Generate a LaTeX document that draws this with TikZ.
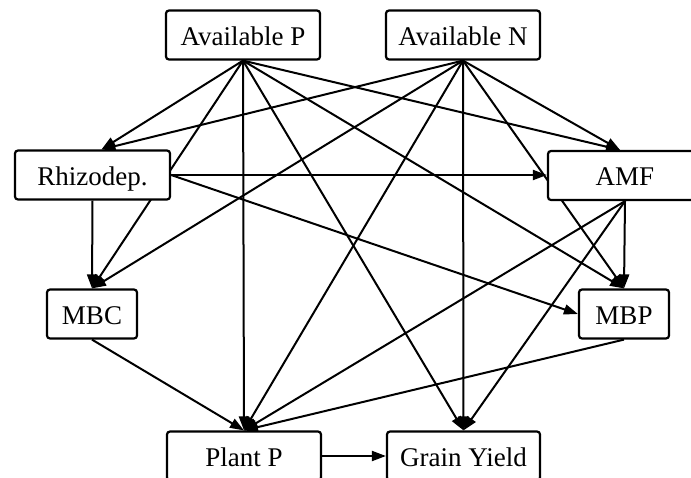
\documentclass[tikz,border=0pt]{standalone}
\usepackage{fontspec}
\setmainfont{Liberation Serif}
\usetikzlibrary{arrows.meta,backgrounds}
\begin{document}
\begin{tikzpicture}[x=1pt,y=-1pt,
  box/.style={draw=black,line width=2.2pt,fill=white,rounded corners=3pt,
    minimum width=154pt,minimum height=49pt,inner sep=2pt,
    text height=22pt,text depth=2pt,font=\fontsize{27}{31}\selectfont},
  smallbox/.style={box,minimum width=90pt},
  edge/.style={line width=2pt,-{Triangle[length=14pt,width=10pt]}}]
\path[use as bounding box,clip] (0,0) rectangle (691,477);
\node[box] (aP) at (243,35) {Available P};
\node[box] (aN) at (463,35) {Available N};
\node[box,minimum width=155pt] (rh) at (92.5,175) {Rhizodep.};
\node[box] (amf) at (625,175.5) {AMF};
\node[smallbox] (mbc) at (92,314) {MBC};
\node[smallbox] (mbp) at (624,314) {MBP};
\node[box] (pp) at (244,456) {Plant P};
\node[box,minimum width=153pt] (gy) at (463.5,456) {Grain Yield};
\begin{pgfonlayer}{background}
% from Available P
\draw[edge] (aP.south) -- ([xshift=9pt]rh.north);
\draw[edge] (aP.south) -- (mbc.north);
\draw[edge] (aP.south) -- (pp.north);
\draw[edge] (aP.south) -- (gy.north);
\draw[edge] (aP.south) -- ([xshift=-5pt]amf.north);
\draw[edge] (aP.south) -- (mbp.north);
% from Available N
\draw[edge] (aN.south) -- ([xshift=9pt]rh.north);
\draw[edge] (aN.south) -- (mbc.north);
\draw[edge] (aN.south) -- ([xshift=-5pt]amf.north);
\draw[edge] (aN.south) -- (mbp.north);
\draw[edge] (aN.south) -- (pp.north);
\draw[edge] (aN.south) -- (gy.north);
% from Rhizodep.
\draw[edge] (rh.east) -- (rh.east -| amf.west);
\draw[edge] (rh.east) -- (mbp.west);
\draw[edge] (rh.south) -- (mbc.north);
% from AMF
\draw[edge] (amf.south) -- (mbp.north);
\draw[edge] (amf.south) -- (pp.north);
\draw[edge] (amf.south) -- (gy.north);
% lower
\draw[edge] (mbc.south) -- (pp.north);
\draw[edge] (mbp.south) -- (pp.north);
\draw[edge] (pp.east) -- (gy.west);
\end{pgfonlayer}
\end{tikzpicture}
\end{document}
